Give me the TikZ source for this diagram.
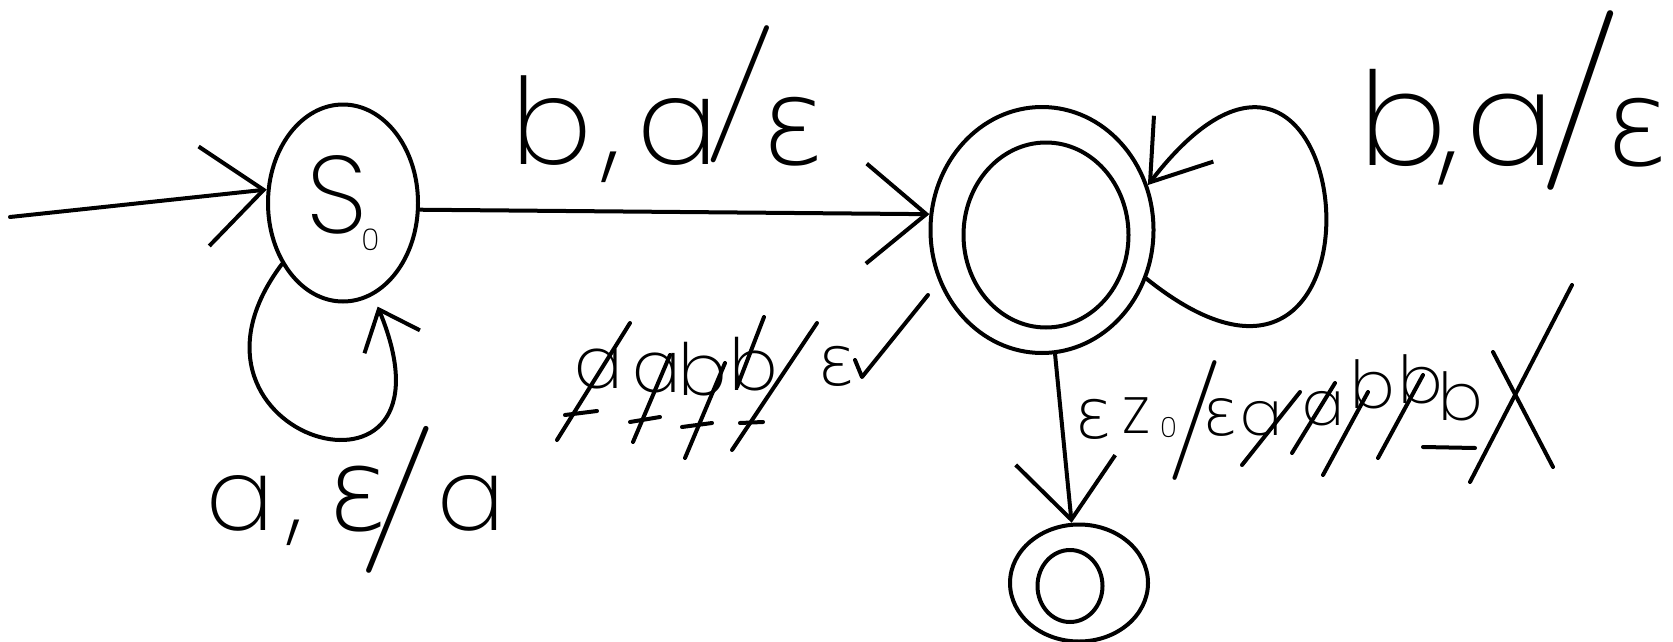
\documentclass[tikz,border=0pt]{standalone}
\usepackage{graphicx}
\usepackage{fontspec}
\IfFontExistsTF{Poppins ExtraLight}{\setmainfont{Poppins ExtraLight}}{\setmainfont{Poppins}}
\IfFontExistsTF{DejaVu Sans ExtraLight}{\newfontfamily\grk{DejaVu Sans ExtraLight}}{\newfontfamily\grk{DejaVu Sans}}
\newfontfamily\lmr{Latin Modern Roman}
\usetikzlibrary{arrows.meta,shapes.geometric}
% tall thin slash: #1 size, #2 raise, #3 rotation
\newcommand\hsl[3]{{\lmr\fontsize{#1}{#1}\selectfont\raisebox{#2}{\rotatebox[origin=c]{#3}{/}}}}
\newcommand\eps[1]{{\grk\fontsize{#1}{#1}\selectfont ε}}
\begin{document}
\begin{tikzpicture}[x=1pt,y=-1pt, line width=4pt, line cap=round, line join=round,
 state/.style={draw, ellipse, inner sep=0pt},
 hw/.style={inner sep=0pt, font=\fontsize{#1}{#1}\selectfont},
 barb/.style 2 args={-{Straight Barb[length=#1pt,width=#2pt]}},
]
\useasboundingbox (0,0) rectangle (1673,642);

% states
\node[state, minimum width=150pt, minimum height=197pt, hw=110] (s0) at (343,203) {S\kern-6pt\raisebox{-0.15em}{\fontsize{30}{30}\selectfont 0}};
\node[state, minimum width=223pt, minimum height=246pt] (q1) at (1042,230) {};
\node[state, minimum width=165pt, minimum height=185pt] (q1i) at (1046,235) {};
\node[state, minimum width=138pt, minimum height=117pt] (f) at (1079,583) {};
\node[state, minimum width=65pt, minimum height=72pt] (fi) at (1070,586) {};

% connectors
\coordinate (start) at (10,217);
\draw[barb={60}{100}] (start) -- (s0.170);
\draw[barb={60}{100}] (s0.-5) -- (q1.172);
\draw[barb={35}{60}, shorten >=12pt] (s0.225) .. controls (150,440) and (470,530) .. (s0.288);
\draw[barb={55}{75}] (q1.-25) .. controls (1410,490) and (1360,-90) .. (q1.23);
\draw[barb={60}{100}] (q1.-84) -- (f.97);

% labels
\node[hw=120, anchor=base west] (l1) at (509,164)
  {b\kern12pt,\kern17pt a\kern-14pt\hsl{140}{35pt}{-3}\kern-16pt\eps{120}};
\node[hw=130, anchor=base west] (l2) at (1357,165)
  {b\kern-6pt,\kern7pt a\kern-14pt\hsl{180}{20pt}{0}\kern-18pt\eps{120}};
\node[hw=100, anchor=base west] (l3) at (204,530)
  {a\kern15pt,\kern24pt\eps{115}\kern-29pt\hsl{150}{-7pt}{-3}\kern1pt a};

% scribbles group 1
\node[hw=72, anchor=base west] (g1a) at (572,388) {a};
\node[hw=72, anchor=base west] (g1b) at (630,392) {a};
\node[hw=72, anchor=base west] (g1c) at (676,395) {b};
\node[hw=72, anchor=base west] (g1d) at (727,390) {b};
\node[anchor=base west, inner sep=0pt] (g1e) at (815,385) {\eps{70}};
\draw (557,440) -- (630,323); \draw (565,415) -- (597,411);
\draw (633,442) -- (670,355); \draw (630,422) -- (660,417);
\draw (685,458) -- (725,363); \draw (682,427) -- (712,423);
\draw (732,450) -- (817,323); \draw (740,423) -- (763,422);
\draw (737,387) -- (764,317);
\draw (855,360) -- (862,377) -- (928,295);

% scribbles group 2
\node[anchor=base west, inner sep=0pt] (h1) at (1072,438) {\eps{70}};
\node[hw=66, anchor=base west] (h2) at (1120,433) {z};
\node[hw=28, anchor=base west] (h3) at (1158,437) {0};
\node[anchor=base west, inner sep=0pt] (h4) at (1165,438) {\hsl{120}{-12pt}{0}};
\node[anchor=base west, inner sep=0pt] (h5) at (1200,435) {\eps{66}};
\node[hw=62, anchor=base west] (h6) at (1238,435) {a};
\node[hw=62, anchor=base west] (h7) at (1300,425) {a};
\node[hw=66, anchor=base west] (h8) at (1348,408) {b};
\node[hw=66, anchor=base west] (h9) at (1396,403) {b};
\node[hw=66, anchor=base west] (h10) at (1436,420) {b};
\draw (1242,465) -- (1300,392);
\draw (1292,453) -- (1335,383);
\draw (1323,475) -- (1368,392);
\draw (1378,458) -- (1423,375);
\draw (1423,447) -- (1475,448);
\draw (1493,352) -- (1553,467);
\draw (1572,285) -- (1470,482);
\end{tikzpicture}
\end{document}
